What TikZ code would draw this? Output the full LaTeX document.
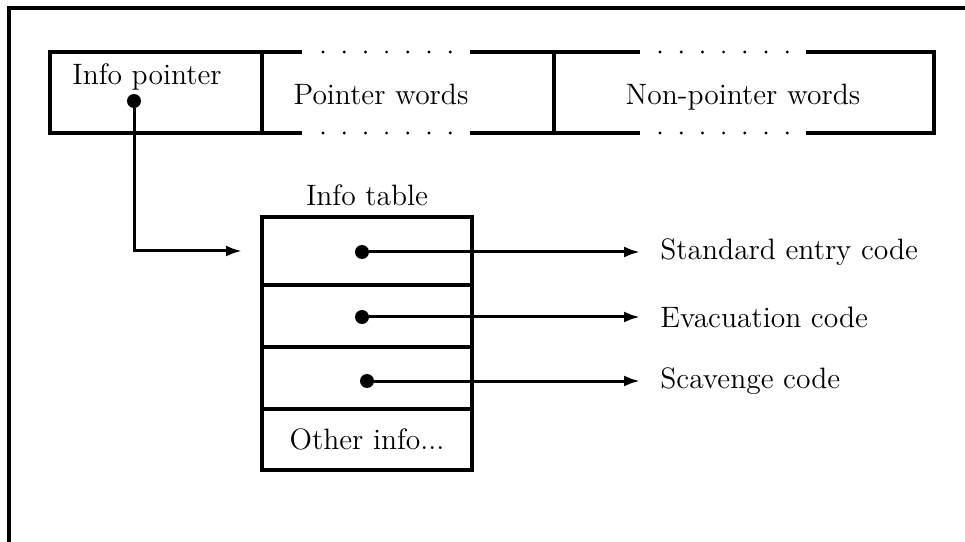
\documentclass[tikz,border=0pt]{standalone}
\usepackage{amsmath}
\usetikzlibrary{positioning,arrows.meta}
\newcommand\pxu{0.488pt}

\begin{document}
\begin{tikzpicture}[x=\pxu,y=-\pxu,
  txt/.style={font=\fontsize{14.4}{17}\selectfont},
  rec/.style={line width=4*\pxu},
  cell/.style={draw,line width=4*\pxu,outer sep=0pt,minimum width=210*\pxu,inner sep=0pt,txt},
  blob/.style={circle,fill,inner sep=0pt,minimum size=14*\pxu},
  ptr/.style={line width=3*\pxu,-{Latex[length=16*\pxu,width=11*\pxu]}},
  dest/.style={txt,anchor=west,inner xsep=20*\pxu}]
  \useasboundingbox (0,0) rectangle (965,542);
  % frame
  \draw[line width=4*\pxu] (9,542) -- (9,8) -- (965,8);
  % the closure record
  \draw[rec] (302,52) -- (50,52) -- (50,133) -- (302,133);
  \draw[rec] (470,52) -- (640,52);
  \draw[rec] (470,133) -- (640,133);
  \draw[rec] (806,52) -- (934,52) -- (934,133) -- (806,133);
  \draw[rec] (262,52) -- (262,133);
  \draw[rec] (554,52) -- (554,133);
  \foreach \x in {0,...,6} {
    \fill (323+21.2*\x,52) circle[radius=1.6*\pxu];
    \fill (323+21.2*\x,133) circle[radius=1.6*\pxu];
    \fill (660+21.2*\x,52) circle[radius=1.6*\pxu];
    \fill (660+21.2*\x,133) circle[radius=1.6*\pxu];
  }
  \node[txt,anchor=base] (infoptr) at (147,85) {Info pointer};
  \node[txt,anchor=base] (ptrwords) at (381,105) {Pointer words};
  \node[txt,anchor=base] (nonptr) at (743,105) {Non-pointer words};
  \node[blob] (ip) at (134,101) {};

  % the info table
  \node[cell,minimum height=68*\pxu,anchor=north] (r1) at (367,217) {};
  \node[cell,minimum height=62*\pxu,below=0pt of r1] (r2) {};
  \node[cell,minimum height=62*\pxu,below=0pt of r2] (r3) {};
  \node[cell,minimum height=61*\pxu,below=0pt of r3] (r4) {Other info...};
  \node[txt,above=2pt of r1] (tablbl) {Info table};
  \coordinate (tin) at ([xshift=-20*\pxu]r1.west);
  \draw[ptr] (ip) |- (tin);

  \node[blob] (d1) at (362,252) {};
  \node[blob] (d2) at (362,317) {};
  \node[blob] (d3) at (367,381) {};
  \node[dest] (std) at (640,252) {Standard entry code};
  \node[dest] (evac) at (640,317) {Evacuation code};
  \node[dest] (scav) at (640,381) {Scavenge code};
  \draw[ptr] (d1) -- (std.west);
  \draw[ptr] (d2) -- (evac.west);
  \draw[ptr] (d3) -- (scav.west);
\end{tikzpicture}
\end{document}
